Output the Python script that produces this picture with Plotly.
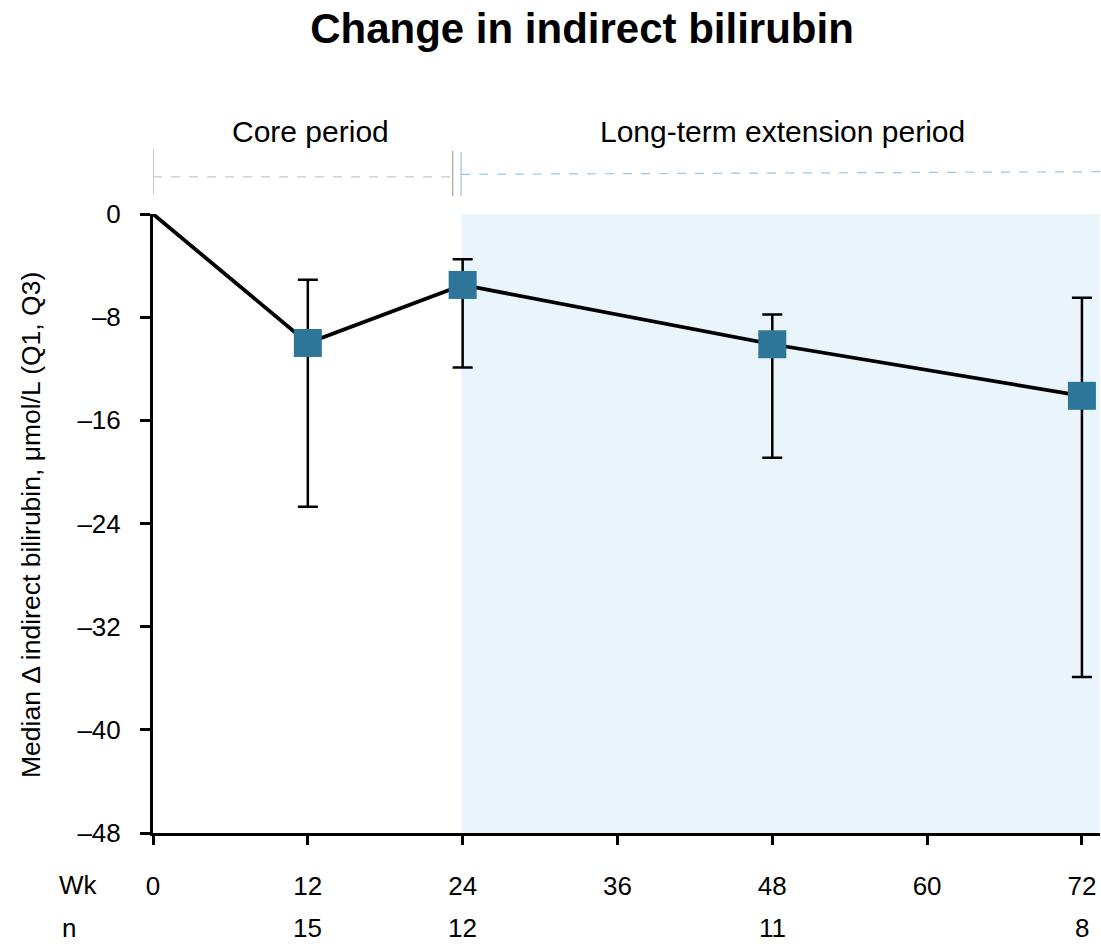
import plotly.graph_objects as go

# ---- data ----
weeks = [0, 12, 24, 48, 72]
median = [0, -10.0, -5.5, -10.1, -14.1]
q3 = [0, -5.1, -3.5, -7.8, -6.5]      # upper quartile (less negative)
q1 = [0, -22.7, -11.9, -18.9, -35.9]  # lower quartile
n_weeks = [12, 24, 48, 72]
n_values = ["15", "12", "11", "8"]
x_ticks = [0, 12, 24, 36, 48, 60, 72]
x_ticklabels = ["0", "12", "24", "36", "48", "60", "72"]
y_ticks = [0, -8, -16, -24, -32, -40, -48]
y_ticklabels = ["0", "–8", "–16", "–24", "–32", "–40", "–48"]
periods = ["Core period", "Long-term extension period"]
period_centers = [12.2, 48.8]
y_title = "Median Δ indirect bilirubin, μmol/L (Q1, Q3)"

FONT = "Liberation Sans, Arial, sans-serif"
MARKER_COLOR = "#2E7699"

pts_x = weeks[1:]
pts_y = median[1:]
err_plus = [u - m for u, m in zip(q3[1:], median[1:])]
err_minus = [m - l for m, l in zip(median[1:], q1[1:])]

fig = go.Figure()
fig.add_trace(go.Scatter(
    x=weeks, y=median, mode="lines",
    line=dict(color="black", width=3.8),
    showlegend=False, hoverinfo="skip", cliponaxis=False,
))
fig.add_trace(go.Scatter(
    x=pts_x, y=pts_y, mode="markers",
    marker=dict(symbol="square", size=28, color=MARKER_COLOR,
                line=dict(width=0)),
    error_y=dict(type="data", symmetric=False, array=err_plus,
                 arrayminus=err_minus, color="black", thickness=2.5, width=10),
    showlegend=False, cliponaxis=False,
))

# shaded extension region
fig.add_shape(type="rect", xref="x", yref="y", x0=23.9, x1=73.4, y0=-48, y1=0,
              fillcolor="#EAF4FB", line=dict(width=0), layer="below")

# period brackets
gray = "#A6A6A6"
blue = "#9DC3E6"
fig.add_shape(type="line", xref="x", yref="paper", x0=0, x1=0, y0=1.032, y1=1.105,
              line=dict(color=gray, width=1.2))
fig.add_shape(type="line", xref="x", yref="paper", x0=0, x1=23.23, y0=1.060, y1=1.060,
              line=dict(color="#C8C8C8", width=1.2, dash="dash"))
fig.add_shape(type="line", xref="x", yref="paper", x0=23.23, x1=23.23, y0=1.029, y1=1.102,
              line=dict(color=gray, width=1.2))
fig.add_shape(type="line", xref="x", yref="paper", x0=23.88, x1=23.88, y0=1.029, y1=1.100,
              line=dict(color=blue, width=1.2))
fig.add_shape(type="line", xref="x", yref="paper", x0=23.88, x1=73.4, y0=1.0641, y1=1.0683,
              line=dict(color=blue, width=1.2, dash="dash"))

for label, cx in zip(periods, period_centers):
    fig.add_annotation(text=label, x=cx, xref="x", y=1.134, yref="paper",
                       showarrow=False, font=dict(family=FONT, size=30, color="black"),
                       xanchor="center", yanchor="middle")

# y-axis title
fig.add_annotation(text=y_title, x=-0.1288, xref="paper", y=0.4976, yref="paper",
                   textangle=-90, showarrow=False,
                   font=dict(family=FONT, size=26.5, color="black"),
                   xanchor="center", yanchor="middle")

# n row
for wk, nv in zip(n_weeks, n_values):
    fig.add_annotation(text=nv, x=wk, xref="x", y=-0.1535, yref="paper",
                       showarrow=False, font=dict(family=FONT, size=26, color="black"),
                       xanchor="center", yanchor="middle")
fig.add_annotation(text="n", x=-0.089, xref="paper", y=-0.1535, yref="paper",
                   showarrow=False, font=dict(family=FONT, size=26, color="black"),
                   xanchor="center", yanchor="middle")
fig.add_annotation(text="Wk", x=-0.079, xref="paper", y=-0.084, yref="paper",
                   showarrow=False, font=dict(family=FONT, size=26, color="black"),
                   xanchor="center", yanchor="middle")

fig.update_layout(
    width=1101, height=944,
    margin=dict(l=153, r=1, t=214, b=111),
    paper_bgcolor="white", plot_bgcolor="white",
    title=dict(text="<b>Change in indirect bilirubin</b>", x=582/1101, xref="container",
               xanchor="center", y=1 - 28/944, yref="container", yanchor="middle",
               font=dict(family=FONT, size=42, color="black")),
    font=dict(family=FONT, color="black"),
    showlegend=False,
)
fig.update_xaxes(
    range=[0, 73.4], tickmode="array", tickvals=x_ticks, ticktext=x_ticklabels,
    showgrid=False, zeroline=False, showline=True, linecolor="black", linewidth=3,
    ticks="outside", ticklen=9, tickwidth=3, tickcolor="black",
    ticklabelstandoff=19, tickfont=dict(family=FONT, size=26, color="black"),
)
fig.update_yaxes(
    range=[-48, 0], tickmode="array", tickvals=y_ticks, ticktext=y_ticklabels,
    showgrid=False, zeroline=False, showline=True, linecolor="black", linewidth=3,
    ticks="outside", ticklen=10, tickwidth=3, tickcolor="black",
    ticklabelstandoff=14, tickfont=dict(family=FONT, size=26, color="black"),
)

fig.write_html("out.html", config={"displayModeBar": False},
               post_script="document.body.style.margin='0';")
